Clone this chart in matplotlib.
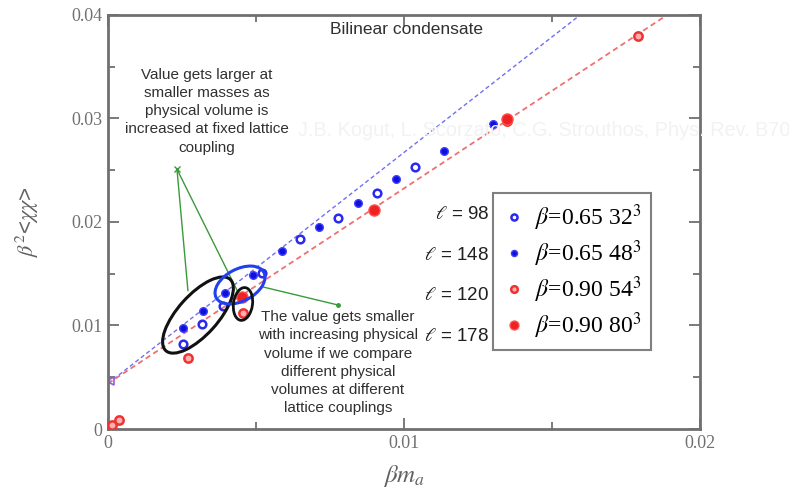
import numpy as np
import matplotlib
matplotlib.use("Agg")
import matplotlib.pyplot as plt
from matplotlib.patches import Ellipse
from matplotlib.transforms import ScaledTranslation

plt.rcParams['font.family'] = ['Liberation Sans', 'DejaVu Sans']
plt.rcParams['mathtext.fontset'] = 'stix'

# beta=0.65 32^3 (open blue)
x_065_32 = [0.00253, 0.00318, 0.00389, 0.00520, 0.00649, 0.00777, 0.00909, 0.01037]
y_065_32 = [0.00821, 0.01014, 0.01188, 0.01510, 0.01836, 0.02039, 0.02280, 0.02531]
# beta=0.65 48^3 (filled blue)
x_065_48 = [0.00253, 0.00321, 0.00395, 0.00490, 0.00588, 0.00713, 0.00845, 0.00973, 0.01135, 0.01301]
y_065_48 = [0.00976, 0.01140, 0.01314, 0.01488, 0.01720, 0.01952, 0.02184, 0.02415, 0.02686, 0.02947]
# beta=0.90 54^3 (open red)
x_090_54 = [0.00014, 0.00037, 0.00270, 0.00456, 0.01348, 0.01790]
y_090_54 = [0.00039, 0.00087, 0.00686, 0.01121, 0.02976, 0.03797]
# beta=0.90 80^3 (filled red)
x_090_80 = [0.00453, 0.00899, 0.01348]
y_090_80 = [0.01275, 0.02116, 0.02995]

# linear fits (intercept, slope)
fit_065 = (0.0044, 2.232)
fit_090 = (0.0044, 1.885)
extrap_point = (0.00007, 0.0046)

legend_labels = [r'$\beta$=0.65 32$^3$', r'$\beta$=0.65 48$^3$',
                 r'$\beta$=0.90 54$^3$', r'$\beta$=0.90 80$^3$']
ell_labels = ['98', '148', '120', '178']

note_top = ("Value gets larger at\nsmaller masses as\nphysical volume is\n"
            "increased at fixed lattice\ncoupling")
note_bot = ("The value gets smaller\nwith increasing physical\nvolume if we compare\n"
            "different physical\nvolumes at different\nlattice couplings")
watermark = 'J.B. Kogut, L. Scorzato, C.G. Strouthos, Phys. Rev. B70'

fig = plt.figure(figsize=(7.89, 4.90), dpi=100)
ax = fig.add_axes([108 / 789, 1 - 429 / 490, 592 / 789, 414 / 490])

# faint watermark of the source slide
fig.text(298 / 789, 1 - 131 / 490, watermark, fontsize=14.3, color='#f2f2f2',
         ha='left', va='center', zorder=0)
ax.patch.set_alpha(0)

xs = np.linspace(0, 0.02, 50)
ax.plot(xs, fit_065[0] + fit_065[1] * xs, ls=(0, (3, 2)), color='#7070ee', lw=1.0, zorder=1)
ax.plot(xs, fit_090[0] + fit_090[1] * xs, ls=(0, (3, 2)), color='#f07070', lw=1.3, zorder=1)
ax.plot([extrap_point[0]], [extrap_point[1]], marker='<', ms=6, mfc='none', mec='#9060d0', mew=1.2, ls='none')

h1, = ax.plot(x_065_32, y_065_32, 'o', ms=5.5, mfc='none', mec='#2a2aee', mew=1.8, ls='none', zorder=3)
h2, = ax.plot(x_065_48, y_065_48, 'o', ms=5.5, mfc='#1010dd', mec='#4040ff', mew=1.0, ls='none', zorder=3)
h3, = ax.plot(x_090_54, y_090_54, 'o', ms=6, mfc='#ffb0b0', mec='#ee3333', mew=1.8, ls='none', zorder=3)
h4, = ax.plot(x_090_80, y_090_80, 'o', ms=8, mfc='#ee2222', mec='#ff5050', mew=1.0, ls='none', zorder=3)

ax.set_xlim(0, 0.02)
ax.set_ylim(0, 0.04)
ax.set_xticks([0, 0.01, 0.02])
ax.set_xticklabels(['0', '0.01', '0.02'])
ax.set_yticks([0, 0.01, 0.02, 0.03, 0.04])
ax.set_yticklabels(['0', '0.01', '0.02', '0.03', '0.04'])
ax.set_xticks([0.005, 0.015], minor=True)
ax.set_yticks([0.005, 0.015, 0.025, 0.035], minor=True)
ax.tick_params(which='both', direction='in', top=True, right=True, color='#707070', width=1.3)
ax.tick_params(which='major', length=8, labelsize=13, labelcolor='#707070', pad=4)
ax.tick_params(which='minor', length=5)
for lab in ax.get_xticklabels() + ax.get_yticklabels():
    lab.set_family('Liberation Serif')
for sp in ax.spines.values():
    sp.set_color('#707070')
    sp.set_linewidth(2)

ax.set_xlabel(r'$\beta m_a$', fontsize=18, color='#606060', labelpad=8)
ax.set_ylabel(r'$\beta^2$<$\chi\chi$>', fontsize=16, color='#606060', labelpad=22)

ax.text(0.0101, 0.0386, 'Bilinear condensate', fontsize=12.5, color='#303030', ha='center', va='center')

ax.text(0.00334, 0.0307, note_top, fontsize=11, color='#303030', ha='center', va='center', linespacing=1.38)
ax.text(0.00777, 0.00640, note_bot, fontsize=11, color='#303030', ha='center', va='center', linespacing=1.38)

# green pointer lines
green = '#3a9a3a'
tip1 = (0.00233, 0.0251)
ax.plot([tip1[0], 0.00270], [tip1[1], 0.01338], color=green, lw=1.0)
ax.plot([tip1[0], 0.00439], [tip1[1], 0.01323], color=green, lw=1.0)
ax.plot([tip1[0]], [tip1[1]], marker='x', color=green, ms=4)
ax.plot([0.00524, 0.00777], [0.01372, 0.01198], color=green, lw=1.0)
ax.plot([0.00777], [0.01198], marker='.', color=green, ms=5)


# ellipses: centre in data units, size in inches so the tilt is drawn on screen
def add_ellipse(cx, cy, w_in, h_in, angle, color, lw):
    tr = fig.dpi_scale_trans + ScaledTranslation(cx, cy, ax.transData)
    ax.add_patch(Ellipse((0, 0), w_in, h_in, angle=angle, fill=False, ec=color, lw=lw,
                         transform=tr, zorder=4))


add_ellipse(0.00304, 0.01101, 0.96, 0.40, 48, '#111111', 2.2)
add_ellipse(0.00446, 0.01391, 0.54, 0.32, 28, '#2040ee', 2.2)
add_ellipse(0.00456, 0.01208, 0.33, 0.19, 82, '#111111', 2.0)

leg = ax.legend([h1, h2, h3, h4], legend_labels, loc='upper left', bbox_to_anchor=(385 / 592, 1 - 178 / 414),
                prop={'family': 'Liberation Serif', 'size': 17}, frameon=True, fancybox=False,
                borderaxespad=0, handletextpad=0.4, borderpad=0.38, labelspacing=0.24,
                handlelength=1.0, markerscale=0.8)
leg.get_frame().set_edgecolor('#606060')
leg.get_frame().set_linewidth(1.5)

for i, lab in enumerate(ell_labels):
    ax.text(0.01287, 0.02068 - i * 0.0039, r'$\ell$ = ' + lab, fontsize=13.5, color='#202020',
            ha='right', va='center')

fig.savefig('out.png', dpi=100)
